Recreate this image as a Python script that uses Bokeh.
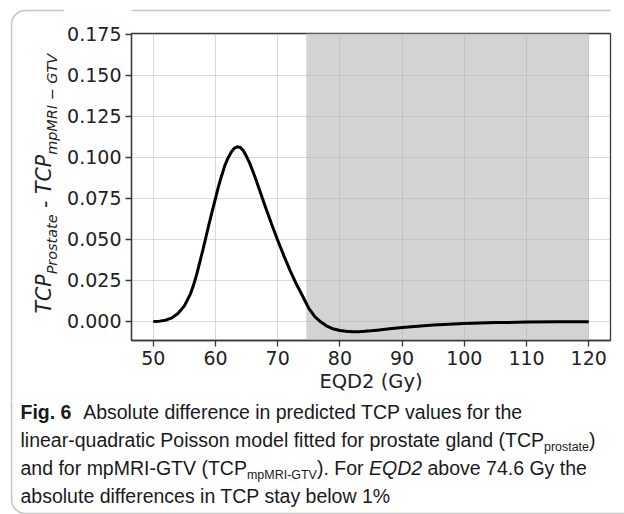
import math
from bokeh.plotting import figure
from bokeh.layouts import column, row
from bokeh.models import Range1d, FixedTicker, NumeralTickFormatter, BoxAnnotation, Label
from bokeh.embed import file_html
from bokeh.resources import INLINE

# ---------------- data ----------------
eqd2 = [50, 51, 52, 53, 54, 55, 56, 56.5, 57, 57.5, 58, 58.5, 59, 59.5, 60, 60.5, 61,
        61.5, 62, 62.5, 63, 63.5, 64, 64.5, 65, 65.5, 66, 66.5, 67, 68, 69, 70, 71,
        72, 73, 74, 75, 76, 77, 78, 79, 80, 81, 82, 83, 84, 85, 86, 88, 90, 92, 95,
        100, 105, 110, 115, 120]
tcp_diff = [0.0000, 0.0002, 0.0008, 0.0022, 0.0050, 0.0095, 0.0170, 0.0225, 0.0290,
            0.0365, 0.0440, 0.0520, 0.0600, 0.0675, 0.0750, 0.0825, 0.0890, 0.0950,
            0.0995, 0.1030, 0.1055, 0.1065, 0.1060, 0.1040, 0.1005, 0.0965, 0.0915,
            0.0865, 0.0810, 0.0700, 0.0595, 0.0495, 0.0400, 0.0310, 0.0228, 0.0155,
            0.0080, 0.0028, -0.0005, -0.0030, -0.0046, -0.0055, -0.0060, -0.0062,
            -0.0062, -0.0060, -0.0057, -0.0053, -0.0045, -0.0037, -0.0030, -0.0022,
            -0.0012, -0.0007, -0.0004, -0.0002, -0.0001]
x_ticks = [50, 60, 70, 80, 90, 100, 110, 120]
y_ticks = [0.0, 0.025, 0.05, 0.075, 0.1, 0.125, 0.15, 0.175]
shade_start = 74.6
shade_end = 120
x_label = "EQD2 (Gy)"
caption_fig = "Fig. 6"
caption_line1 = "Absolute difference in predicted TCP values for the"
caption_line2 = ["linear-quadratic Poisson model fitted for prostate gland (TCP", "prostate", ")"]
caption_line3 = ["and for mpMRI-GTV (TCP", "mpMRI-GTV", "). For", "EQD2", "above 74.6 Gy the"]
caption_line4 = "absolute differences in TCP stay below 1%"

# ---------------- overall geometry (page pixels) ----------------
W, H = 624, 514
LW = 64            # width of the y-label strip
TOPH = 20          # strip above the chart figure (carries the box's top edge)
ROWH = 400         # height of the chart row
FR_L, FR_T, FR_R, FR_B = 130, 33, 610, 340   # plot frame edges
EDGE = "#3a3a3a"
BASE_K = 0.4       # label anchor sits this many em above the drawn baseline


def blank(width, height):
    f = figure(width=width, height=height, output_backend="svg", toolbar_location=None,
               x_axis_location=None, y_axis_location=None, min_border=0,
               x_range=Range1d(0, 1), y_range=Range1d(0, 1))
    f.outline_line_color = None
    f.background_fill_color = "white"
    f.border_fill_color = "white"
    f.grid.visible = False
    return f


def frame_box(f, left, right, top, bottom, radius):
    f.add_layout(BoxAnnotation(left=left, right=right, top=top, bottom=bottom,
                               left_units="screen", right_units="screen",
                               top_units="screen", bottom_units="screen",
                               fill_alpha=0, line_color=EDGE, line_width=1.5,
                               border_radius=radius, level="overlay"))

# ---------------- main chart ----------------
MW, MH = W - LW, ROWH - TOPH
p = figure(width=MW, height=MH, output_backend="svg", toolbar_location=None,
           x_range=Range1d(46.5, 123.5), y_range=Range1d(-0.0116, 0.1755),
           min_border_left=FR_L - LW, min_border_right=W - FR_R,
           min_border_top=FR_T - TOPH, min_border_bottom=ROWH - FR_B)
p.background_fill_color = "white"
p.border_fill_color = "white"
p.outline_line_color = EDGE
p.outline_line_width = 1.3

p.add_layout(BoxAnnotation(left=shade_start, right=shade_end, fill_color="#d3d3d3",
                           fill_alpha=1.0, line_color=None, level="image"))
p.line(eqd2, tcp_diff, line_color="black", line_width=3)

p.xaxis.ticker = FixedTicker(ticks=x_ticks)
p.yaxis.ticker = FixedTicker(ticks=y_ticks)
p.yaxis.formatter = NumeralTickFormatter(format="0.000")
p.xaxis.formatter = NumeralTickFormatter(format="0")
for ax in (p.xaxis, p.yaxis):
    ax.major_label_text_font = "DejaVu Sans"
    ax.major_label_text_font_size = "19px"
    ax.major_label_text_color = "#222222"
    ax.axis_line_color = EDGE
    ax.axis_line_width = 1.3
    ax.major_tick_line_color = EDGE
    ax.major_tick_line_width = 1.3
    ax.major_tick_out = 6
    ax.major_tick_in = 0
    ax.minor_tick_line_color = None
    ax.major_label_standoff = 4
p.xaxis.axis_label = x_label
p.xaxis.axis_label_text_font = "DejaVu Sans"
p.xaxis.axis_label_text_font_style = "normal"
p.xaxis.axis_label_text_font_size = "19.5px"
p.xaxis.axis_label_text_color = "#222222"
p.xaxis.axis_label_standoff = 2

p.grid.grid_line_color = "#b0b0b0"
p.grid.grid_line_alpha = 0.45
p.grid.grid_line_width = 1

# ---------------- strip above the chart (top edge of the outer box) ----------------
top_strip = blank(MW, TOPH)
frame_box(top_strip, -60, MW + 60, TOPH - 10, -60, 0)

# ---------------- y-label strip ----------------
ylab = blank(LW, ROWH)
frame_box(ylab, 11, LW + 60, ROWH - 10, -60, 14)

DV = {'T': 611, 'C': 698, 'P': 603, 'r': 411, 'o': 612, 's': 521, 't': 392, 'a': 613,
      'e': 615, 'm': 974, 'p': 635, 'M': 863, 'R': 695, 'I': 295, ' ': 318, '-': 361,
      '\u2212': 838, 'G': 775, 'V': 684}


def dvw(s, size):
    return sum(DV.get(c, 600) for c in s) / 1000.0 * size

big, small = 20.5, 14.4
# (text, size, baseline x in page px, style, space before, space after)
ypieces = [("TCP", big, 52.0, "italic", 0, 0),
           ("Prostate", small, 57.5, "italic", 0, 0),
           ("-", big, 52.0, "normal", 1, 1),
           ("TCP", big, 52.0, "italic", 0, 0),
           ("mpMRI \u2212 GTV", small, 57.5, "italic", 0, 0)]
pos = 313.0
for txt, size, bx, style, sp_before, sp_after in ypieces:
    pos -= sp_before * dvw(" ", size)
    ylab.add_layout(Label(x=bx - BASE_K * size, y=ROWH - pos, x_units="screen",
                          y_units="screen", text=txt, angle=math.pi / 2,
                          text_font="DejaVu Sans", text_font_style=style,
                          text_font_size=f"{size}px", text_color="#222222",
                          text_align="left", text_baseline="alphabetic"))
    pos -= dvw(txt, size) + sp_after * dvw(" ", size)

# ---------------- caption ----------------
CH = H - ROWH
capf = blank(W, CH)
frame_box(capf, 11, W + 60, CH + 60, CH - (513 - ROWH), 14)

AR = {' ': 278, '!': 278, '%': 889, '(': 333, ')': 333, ',': 278, '-': 333, '.': 278,
      '0': 556, '1': 556, '2': 556, '3': 556, '4': 556, '5': 556, '6': 556, '7': 556,
      '8': 556, '9': 556, 'A': 667, 'B': 667, 'C': 722, 'D': 722, 'E': 667, 'F': 611,
      'G': 778, 'H': 722, 'I': 278, 'M': 833, 'P': 667, 'Q': 778, 'R': 722, 'T': 611,
      'V': 667, 'a': 556, 'b': 556, 'c': 500, 'd': 556, 'e': 556, 'f': 278, 'g': 556,
      'h': 556, 'i': 222, 'l': 222, 'm': 833, 'n': 556, 'o': 556, 'p': 556, 'q': 556,
      'r': 333, 's': 500, 't': 278, 'u': 556, 'v': 500, 'w': 722, 'y': 500}
ARB = {'F': 611, 'i': 278, 'g': 611, '.': 278, ' ': 278, '6': 556}


def arw(s, size, table=AR):
    return sum(table.get(c, 556) for c in s) / 1000.0 * size

CF = "Liberation Sans"
CS = 19.5
SUB = CS * 0.64
X0 = 20.0


def cap(txt, ix, base, size=CS, style="normal"):
    capf.add_layout(Label(x=ix, y=H - (base - BASE_K * size), x_units="screen",
                          y_units="screen", text=txt, text_font=CF,
                          text_font_size=f"{size}px", text_font_style=style,
                          text_color="#1a1a1a", text_align="left",
                          text_baseline="alphabetic"))

b1, b2, b3, b4 = 419, 447, 475, 503
SP = arw(" ", CS)
cap(caption_fig, X0, b1, style="bold")
cap(caption_line1, X0 + arw(caption_fig, CS, ARB) + 0.6 * CS, b1)

x = X0
cap(caption_line2[0], x, b2); x += arw(caption_line2[0], CS)
cap(caption_line2[1], x, b2 + 4.5, size=SUB); x += arw(caption_line2[1], SUB)
cap(caption_line2[2], x, b2)

x = X0
cap(caption_line3[0], x, b3); x += arw(caption_line3[0], CS)
cap(caption_line3[1], x, b3 + 4.5, size=SUB); x += arw(caption_line3[1], SUB)
cap(caption_line3[2], x, b3); x += arw(caption_line3[2], CS) + SP
cap(caption_line3[3], x, b3, style="italic"); x += arw(caption_line3[3], CS) + SP
cap(caption_line3[4], x, b3)

cap(caption_line4, X0, b4)

layout = column(row(ylab, column(top_strip, p, spacing=0), spacing=0), capf, spacing=0)
open("out.html", "w").write(file_html(layout, INLINE))
